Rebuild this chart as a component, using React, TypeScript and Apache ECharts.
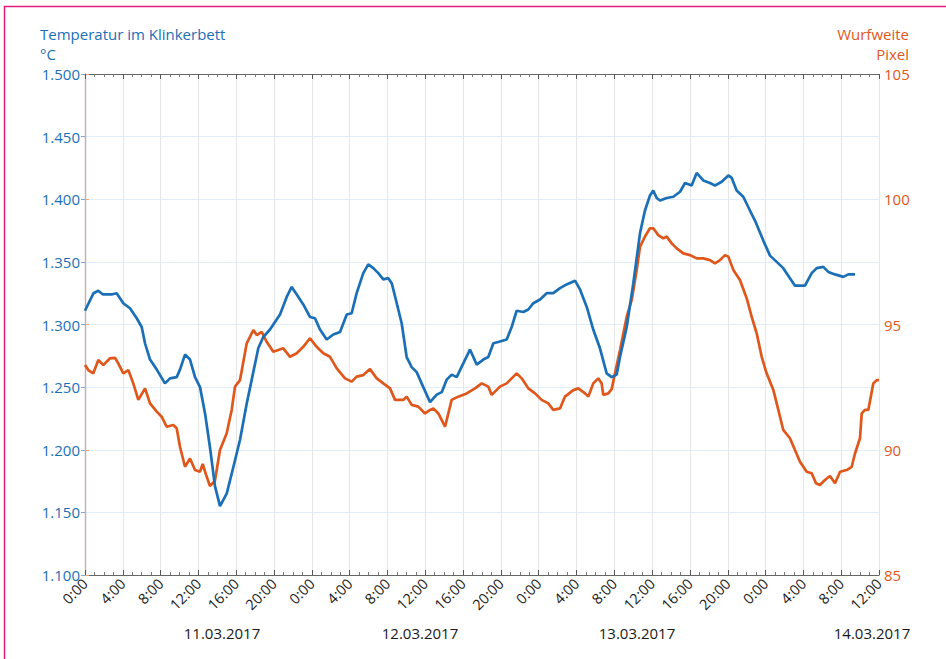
import React, { useEffect, useRef } from "react";
import * as echarts from "echarts";

// Hours since 11.03.2017 0:00
const tempHours = [
  0, 0.9, 1.4, 1.9, 2.8, 3.35, 4.05, 4.76, 5.47, 6.0, 6.35, 6.88, 7.59, 8.46, 8.99, 9.7, 10.05, 10.58,
  11.11, 11.64, 12.17, 12.7, 13.22, 13.75, 14.28, 14.99, 15.69, 16.4, 17.11, 17.64, 18.33, 18.86, 19.57,
  20.1, 20.63, 21.34, 21.87, 22.4, 23.09, 23.8, 24.33, 24.86, 25.57, 26.27, 26.98, 27.69, 28.21, 28.74,
  29.44, 29.97, 30.5, 31.03, 31.56, 32.09, 32.45, 32.98, 33.5, 34.03, 34.56, 35.09, 35.79, 36.5, 37.21,
  37.74, 38.27, 38.79, 39.32, 40.02, 40.73, 41.44, 42.14, 42.67, 43.2, 43.72, 44.61, 45.14, 45.67, 46.37,
  46.9, 47.43, 48.14, 48.84, 49.54, 50.25, 50.96, 51.84, 52.37, 53.08, 53.77, 54.48, 55.19, 55.72, 56.25,
  56.6, 57.31, 58.01, 58.72, 59.24, 59.77, 60.12, 60.48, 60.83, 61.54, 62.24, 62.95, 63.48, 64.18, 64.71,
  65.41, 66.12, 66.65, 67.36, 68.06, 68.42, 68.94, 69.64, 70.35, 70.88, 71.76, 72.47, 73.18, 73.87, 74.58,
  75.11, 76.17, 76.88, 77.41, 78.11, 78.64, 79.35, 80.22, 80.75, 81.28, 81.46,
];
// Temperatur im Klinkerbett, °C
const tempValues = [
  1311, 1325, 1327, 1324, 1324, 1325, 1317, 1313, 1305, 1298, 1285, 1272, 1264, 1253, 1257, 1258, 1264, 1276,
  1272, 1258, 1250, 1229, 1202, 1171, 1155, 1165, 1186, 1208, 1237, 1256, 1281, 1290, 1296,
  1302, 1308, 1322, 1330, 1324, 1316, 1306, 1305, 1296, 1288, 1292, 1294, 1308, 1309, 1325,
  1341, 1348, 1345, 1341, 1336, 1337, 1333, 1317, 1301, 1274, 1266, 1262, 1250, 1238, 1244,
  1246, 1256, 1260, 1258, 1269, 1280, 1268, 1272, 1274, 1285, 1286, 1288, 1298, 1311, 1310,
  1312, 1317, 1320, 1325, 1325, 1329, 1332, 1335, 1328, 1314, 1296, 1281, 1261, 1258, 1260,
  1274, 1298, 1333, 1373, 1391, 1403, 1407, 1401, 1399, 1401, 1402, 1406, 1413, 1411, 1421,
  1415, 1413, 1411, 1414, 1419, 1417, 1407, 1402, 1391, 1383, 1367, 1355, 1350, 1345, 1337,
  1331, 1331, 1341, 1345, 1346, 1342, 1340, 1338, 1340, 1340, 1340,
];

const pixelHours = [
  0, 0.35, 0.88, 1.41, 1.94, 2.64, 3.17, 3.52, 4.05, 4.58, 5.11, 5.64, 6.35, 6.88, 7.59, 8.11, 8.64, 9.34,
  9.7, 10.05, 10.58, 11.11, 11.64, 12.17, 12.45, 12.87, 13.22, 13.75, 14.28, 14.99, 15.52, 15.87, 16.4,
  17.11, 17.81, 18.17, 18.69, 19.22, 19.92, 20.98, 21.69, 22.4, 23.09, 23.8, 24.51, 25.21, 25.92, 26.63,
  27.51, 28.21, 28.74, 29.44, 30.15, 30.86, 31.56, 32.27, 32.8, 33.67, 34.03, 34.56, 35.26, 35.97, 36.5,
  36.85, 37.38, 38.09, 38.79, 39.49, 40.38, 41.26, 41.97, 42.67, 43.03, 43.9, 44.61, 45.14, 45.67, 46.2,
  46.9, 47.61, 48.31, 49.01, 49.54, 50.25, 50.78, 51.66, 52.19, 52.9, 53.25, 53.77, 54.3, 54.66, 54.83,
  55.36, 55.72, 56.07, 56.6, 57.31, 57.84, 58.37, 58.72, 59.24, 59.77, 60.12, 60.65, 61.18, 61.54, 62.07,
  62.6, 63.3, 64.01, 64.71, 65.41, 66.12, 66.65, 67.18, 67.71, 68.06, 68.59, 69.29, 70.0, 70.53, 71.06,
  71.59, 72.11, 72.82, 73.35, 73.87, 74.58, 75.11, 75.64, 76.35, 76.88, 77.33, 77.75, 78.28, 78.81, 79.35,
  79.88, 80.58, 81.11, 81.46, 81.99, 82.17, 82.52, 82.87, 83.4, 83.76, 84,
];
// Wurfweite, Pixel
const pixelValues = [
  93.38, 93.18, 93.05, 93.58, 93.38, 93.65, 93.67, 93.45, 93.05, 93.18, 92.65, 91.99, 92.45, 91.85, 91.52, 91.32, 90.92, 90.99,
  90.86, 90.12, 89.32, 89.65, 89.19, 89.12, 89.43, 88.93, 88.55, 88.77, 89.99, 90.66, 91.59, 92.52, 92.78,
  94.25, 94.78, 94.58, 94.71, 94.31, 93.91, 94.05, 93.71, 93.85, 94.11, 94.45, 94.11, 93.85, 93.71, 93.25,
  92.85, 92.72, 92.92, 92.98, 93.22, 92.85, 92.65, 92.45, 91.99, 91.99, 92.12, 91.79, 91.72, 91.45, 91.59,
  91.65, 91.45, 90.92, 91.99, 92.12, 92.25, 92.45, 92.65, 92.52, 92.19, 92.52, 92.65, 92.85, 93.05, 92.85,
  92.45, 92.25, 91.99, 91.85, 91.59, 91.65, 92.12, 92.38, 92.45, 92.25, 92.12, 92.65, 92.85, 92.65, 92.19,
  92.25, 92.42, 93.05, 93.98, 95.31, 95.98, 97.18, 98.11, 98.51, 98.84, 98.84, 98.57, 98.44, 98.51, 98.24,
  98.04, 97.84, 97.77, 97.64, 97.64, 97.57, 97.44, 97.57, 97.77, 97.71, 97.18, 96.78, 96.05, 95.31, 94.65,
  93.71, 93.05, 92.39, 91.59, 90.79, 90.46, 89.99, 89.52, 89.12, 89.06, 88.66, 88.59, 88.79, 88.95, 88.66,
  89.12, 89.19, 89.32, 89.85, 90.46, 91.45, 91.59, 91.59, 92.65, 92.78, 92.78,
];

const dateLabels = ["11.03.2017", "12.03.2017", "13.03.2017", "14.03.2017"];
const dateLabelX = [222, 420, 637, 872];

const BLUE = "#1b6fb6";
const ORANGE = "#e0571c";
const FONT = "'Open Sans', 'Noto Sans', sans-serif";

export default function App() {
  const ref = useRef<HTMLDivElement>(null);

  useEffect(() => {
    if (!ref.current) return;
    const chart = echarts.init(ref.current, null, { renderer: "svg" });

    const xCommon = {
      type: "value" as const,
      min: 0,
      max: 84,
      interval: 4,
      splitLine: { show: false },
      axisLine: { show: true, lineStyle: { color: "#666", width: 1 } },
      axisTick: { show: true, inside: true, length: 5, lineStyle: { color: "#555" } },
      minorTick: { show: true, splitNumber: 4, length: 3, lineStyle: { color: "#777" } },
    };

    const headText = (text: string, x: number, y: number, fill: string, align: string) => ({
      type: "text",
      x,
      y,
      style: { text, fill, font: `15px ${FONT}`, textAlign: align, textVerticalAlign: "middle" },
    });

    chart.setOption({
      animation: false,
      backgroundColor: "#ffffff",
      textStyle: { fontFamily: FONT },
      grid: { left: 85, right: 67, top: 74, bottom: 84 },
      xAxis: [
        {
          ...xCommon,
          position: "bottom",
          splitLine: { show: true, lineStyle: { color: "#e6e6e6", width: 1 } },
          axisLabel: {
            rotate: 45,
            color: "#1a1a1a",
            fontSize: 14.5,
            fontFamily: FONT,
            margin: 6,
            formatter: (v: number) => `${Math.round(v) % 24}:00`,
          },
        },
        {
          ...xCommon,
          position: "top",
          axisLabel: { show: false },
        },
      ],
      yAxis: [
        {
          type: "value",
          position: "left",
          min: 1100,
          max: 1500,
          interval: 50,
          axisLine: { show: true, lineStyle: { color: "#7ea6e0", width: 1.2 } },
          axisTick: { show: true, length: 4, lineStyle: { color: "#7ea6e0" } },
          splitLine: { show: true, lineStyle: { color: "#e1edf8", width: 1 } },
          axisLabel: {
            color: BLUE,
            fontSize: 15,
            fontFamily: FONT,
            margin: 5,
            formatter: (v: number) => (v / 1000).toFixed(3),
          },
        },
        {
          type: "value",
          position: "right",
          min: 85,
          max: 105,
          interval: 5,
          axisLine: { show: true, lineStyle: { color: "#f4a27a", width: 1.2 } },
          axisTick: { show: true, length: 4, lineStyle: { color: "#f4a27a" } },
          splitLine: { show: false },
          axisLabel: { color: ORANGE, fontSize: 15, fontFamily: FONT, margin: 5 },
        },
      ],
      series: [
        {
          name: "Temperatur im Klinkerbett",
          type: "line",
          xAxisIndex: 0,
          yAxisIndex: 0,
          showSymbol: false,
          lineStyle: { color: BLUE, width: 2.7 },
          data: tempHours.map((h, i) => [h, tempValues[i]]),
          z: 3,
        },
        {
          name: "Wurfweite",
          type: "line",
          xAxisIndex: 0,
          yAxisIndex: 1,
          showSymbol: false,
          lineStyle: { color: ORANGE, width: 2.7 },
          data: pixelHours.map((h, i) => [h, pixelValues[i]]),
          z: 2,
        },
      ],
      graphic: [
        {
          type: "rect",
          shape: { x: 4.5, y: 6.5, width: 1200, height: 1200 },
          style: { fill: "none", stroke: "#e3197f", lineWidth: 1.5 },
          silent: true,
        },
        headText("Temperatur im Klinkerbett", 40, 34, BLUE, "left"),
        headText("°C", 40, 54, BLUE, "left"),
        headText("Wurfweite", 909, 34, ORANGE, "right"),
        headText("Pixel", 909, 54, ORANGE, "right"),
        ...dateLabels.map((t, i) => ({
          type: "text",
          x: dateLabelX[i],
          y: 633,
          style: { text: t, fill: "#1a1a1a", font: `15px ${FONT}`, textAlign: "center", textVerticalAlign: "middle" },
        })),
      ],
    });

    return () => chart.dispose();
  }, []);

  return (
    <div
      ref={ref}
      style={{ position: "fixed", left: 0, top: 0, width: 946, height: 659, background: "#fff" }}
    />
  );
}
